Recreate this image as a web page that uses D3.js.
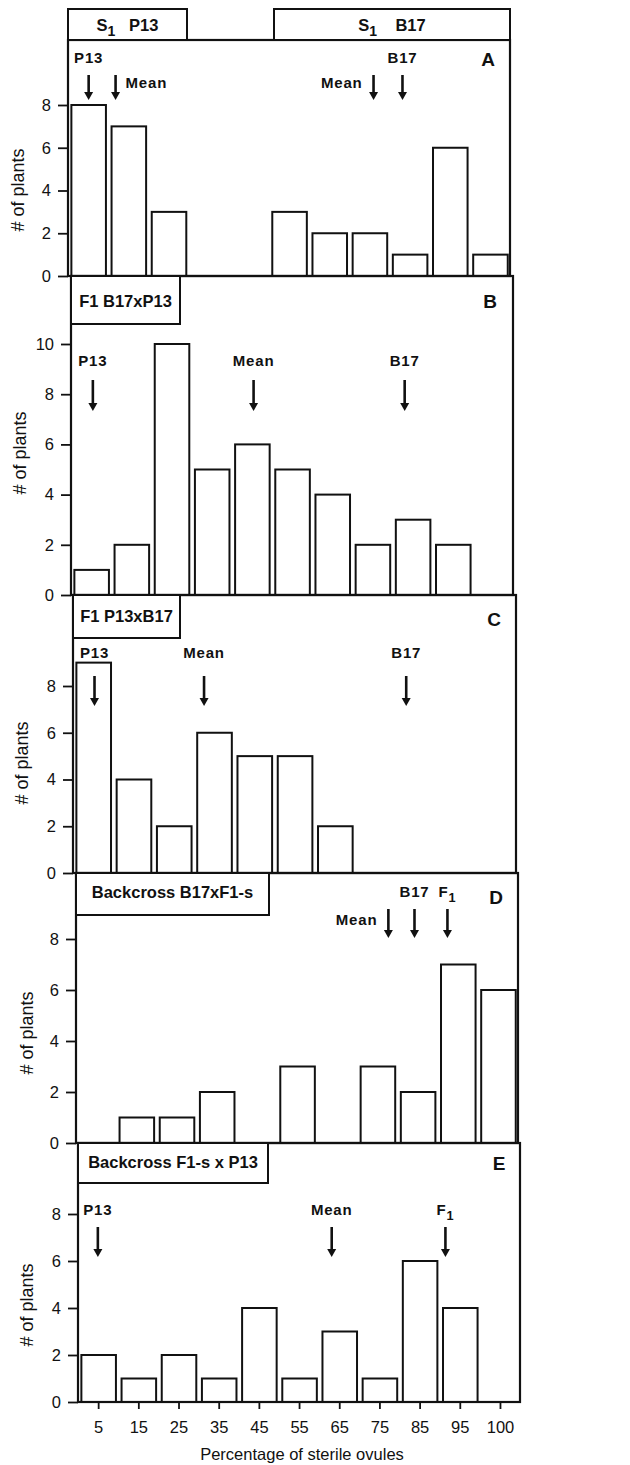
<!DOCTYPE html>
<html>
<head>
<meta charset="utf-8">
<script src="https://cdn.jsdelivr.net/npm/d3@7"></script>
<style>
    body { margin: 0; background: #fff; }
    svg { display: block; font-family: "Liberation Sans", Arial, Helvetica, sans-serif; }
</style>
</head>
<body>
<svg id="chart" width="630" height="1465"></svg>
<script>
// bins of percentage of sterile ovules
const bins = ['5', '15', '25', '35', '45', '55', '65', '75', '85', '95', '100']

// number of plants per bin
const countsA = [8, 7, 3, 0, 0, 3, 2, 2, 1, 6, 1]
const countsB = [1, 2, 10, 5, 6, 5, 4, 2, 3, 2, 0]
const countsC = [9, 4, 2, 6, 5, 5, 2, 0, 0, 0, 0]
const countsD = [0, 1, 1, 2, 0, 3, 0, 3, 2, 7, 6]
const countsE = [2, 1, 2, 1, 4, 1, 3, 1, 6, 4, 0]

// y tick labels
const ticksA = [0, 2, 4, 6, 8]
const ticksB = [0, 2, 4, 6, 8, 10]
const ticksC = [0, 2, 4, 6, 8]
const ticksD = [0, 2, 4, 6, 8]
const ticksE = [0, 2, 4, 6, 8]

// titles
const titlesA = ['S_1   P13', 'S_1    B17']
const titleB = 'F1 B17xP13'
const titleC = 'F1 P13xB17'
const titleD = 'Backcross B17xF1-s'
const titleE = 'Backcross F1-s x P13'

// arrows: name and percentage value
const markersA = [['P13', 5], ['Mean', 11.7], ['Mean', 75.9], ['B17', 83.1]]
const markersB = [['P13', 5.3], ['Mean', 45.3], ['B17', 82.9]]
const markersC = [['P13', 5.2], ['Mean', 32.4], ['B17', 82.6]]
const markersD = [['Mean', 77.6], ['B17', 84.1], ['F_1', 92.3]]
const markersE = [['P13', 4.8], ['Mean', 63], ['F_1', 91.3]]

const xTitle = 'Percentage of sterile ovules'
const yTitle = '# of plants'

// layout of each panel (pixels)
const panels = [
    { key: 'A', counts: countsA, ticks: ticksA, markers: markersA, left: 68, right: 510, top: 40, base: 276, yTick: 105, tickTop: 8,
      boxes: [[68, 9, 187, 40], [274, 9, 510, 40]], titles: titlesA, titleY: 31,
      arrow: [75, 100], place: ['above', 'right', 'left', 'above'], aboveY: 63, sideY: 88, letter: [488, 66], ylab: [18, 190] },
    { key: 'B', counts: countsB, ticks: ticksB, markers: markersB, left: 71, right: 513, top: 276, base: 595, yTick: 344, tickTop: 10,
      boxes: [[71, 276, 180, 324]], titles: [titleB], titleY: 307,
      arrow: [380, 411], place: ['above', 'above', 'above'], aboveY: 366, sideY: 0, letter: [490, 308], ylab: [20, 453] },
    { key: 'C', counts: countsC, ticks: ticksC, markers: markersC, left: 73, right: 516, top: 595, base: 873, yTick: 686, tickTop: 8,
      boxes: [[73, 595, 180, 638]], titles: [titleC], titleY: 622,
      arrow: [676, 706], place: ['above', 'above', 'above'], aboveY: 658, sideY: 0, letter: [494, 626], ylab: [22, 763] },
    { key: 'D', counts: countsD, ticks: ticksD, markers: markersD, left: 76, right: 518, top: 873, base: 1143, yTick: 939, tickTop: 8,
      boxes: [[76, 873, 269, 915]], titles: [titleD], titleY: 898,
      arrow: [909, 938], place: ['left', 'above', 'above'], aboveY: 897, sideY: 925, letter: [496, 904], ylab: [27, 1033] },
    { key: 'E', counts: countsE, ticks: ticksE, markers: markersE, left: 78, right: 520, top: 1143, base: 1402, yTick: 1214, tickTop: 8,
      boxes: [[78, 1143, 268, 1183]], titles: [titleE], titleY: 1168,
      arrow: [1227, 1257], place: ['above', 'above', 'above'], aboveY: 1215, sideY: 0, letter: [499, 1170], ylab: [27, 1305] }
]

const svg = d3.select('#chart')

// text with "_1" written as subscript
const richText = (sel, str, size) => {
    const parts = str.split('_')
    sel.append('tspan').text(parts[0])
    for (let i = 1; i < parts.length; i++) {
        sel.append('tspan').attr('dy', size * 0.3).attr('font-size', size * 0.85).text(parts[i][0])
        sel.append('tspan').attr('dy', -size * 0.3).text(parts[i].slice(1))
    }
}

panels.forEach((p) => {
    const g = svg.append('g')

    const x = d3.scaleBand().domain(bins).range([p.left, p.right]).paddingInner(0.14).paddingOuter(0.07).align(0.6)
    const y = d3.scaleLinear().domain([0, p.tickTop]).range([p.base, p.yTick])
    // arrows are placed by percentage between bin centres
    const xp = d3.scaleLinear().domain([5, 95]).range([x('5') + x.bandwidth() / 2, x('95') + x.bandwidth() / 2])

    // bars
    g.selectAll('rect.bar')
        .data(p.counts.map((c, i) => ({ bin: bins[i], c })).filter((d) => d.c > 0))
        .enter()
        .append('rect')
        .attr('class', 'bar')
        .attr('x', (d) => x(d.bin))
        .attr('width', x.bandwidth())
        .attr('y', (d) => y(d.c))
        .attr('height', (d) => y(0) - y(d.c))
        .attr('fill', '#fff')
        .attr('stroke', '#111')
        .attr('stroke-width', 2)

    // frame
    g.append('rect')
        .attr('x', p.left).attr('y', p.top)
        .attr('width', p.right - p.left).attr('height', p.base - p.top)
        .attr('fill', 'none').attr('stroke', '#111').attr('stroke-width', 2.2)

    // title boxes
    p.boxes.forEach((b, i) => {
        g.append('rect')
            .attr('x', b[0]).attr('y', b[1])
            .attr('width', b[2] - b[0]).attr('height', b[3] - b[1])
            .attr('fill', '#fff').attr('stroke', '#111').attr('stroke-width', 2)
        const t = g.append('text')
            .attr('x', (b[0] + b[2]) / 2).attr('y', p.titleY)
            .attr('text-anchor', 'middle')
            .attr('font-size', 16.5).attr('font-weight', 'bold')
            .attr('xml:space', 'preserve')
            .style('white-space', 'pre')
            .attr('fill', '#111')
        richText(t, p.titles[i], 16.5)
    })

    // y axis
    const yAxis = g.append('g')
        .attr('transform', `translate(${p.left},0)`)
        .call(d3.axisLeft(y).tickValues(p.ticks).tickSize(10).tickPadding(7).tickSizeOuter(0))
    yAxis.select('.domain').remove()
    yAxis.selectAll('line').attr('stroke', '#111').attr('stroke-width', 1.8)
    yAxis.selectAll('text').attr('font-size', 16.5).attr('fill', '#111').attr('font-family', '"Liberation Sans", Arial, sans-serif')

    // y title
    g.append('text')
        .attr('transform', `translate(${p.ylab[0]},${p.ylab[1]}) rotate(-90)`)
        .attr('text-anchor', 'middle')
        .attr('dy', '0.35em')
        .attr('font-size', 18)
        .attr('fill', '#111')
        .text(yTitle)

    // panel letter
    g.append('text')
        .attr('x', p.letter[0]).attr('y', p.letter[1])
        .attr('text-anchor', 'middle')
        .attr('font-size', 19).attr('font-weight', 'bold')
        .attr('fill', '#111')
        .text(p.key)

    // arrows and labels
    p.markers.forEach((m, i) => {
        const cx = xp(m[1])
        const [y0, y1] = p.arrow
        g.append('line')
            .attr('x1', cx).attr('x2', cx)
            .attr('y1', y0).attr('y2', y1 - 6)
            .attr('stroke', '#111').attr('stroke-width', 2.6)
        g.append('path')
            .attr('d', `M${cx - 4.5},${y1 - 8} L${cx + 4.5},${y1 - 8} L${cx},${y1} Z`)
            .attr('fill', '#111')

        const place = p.place[i]
        const t = g.append('text')
            .attr('font-size', 15).attr('font-weight', 'bold')
            .attr('letter-spacing', 0.8)
            .attr('fill', '#111')
        if (place == 'above') {
            t.attr('x', cx).attr('y', p.aboveY).attr('text-anchor', 'middle')
        } else if (place == 'right') {
            t.attr('x', cx + 10).attr('y', p.sideY).attr('text-anchor', 'start')
        } else {
            t.attr('x', cx - 11).attr('y', p.sideY).attr('text-anchor', 'end')
        }
        richText(t, m[0], 15)
    })

    // x axis only under last panel
    if (p.key == 'E') {
        const xAxis = g.append('g')
            .attr('transform', `translate(0,${p.base})`)
            .call(d3.axisBottom(x).tickSize(7).tickPadding(12).tickSizeOuter(0))
        xAxis.select('.domain').remove()
        xAxis.selectAll('line').attr('stroke', '#111').attr('stroke-width', 1.8)
        xAxis.selectAll('text').attr('font-size', 16.5).attr('fill', '#111').attr('font-family', '"Liberation Sans", Arial, sans-serif')

        g.append('text')
            .attr('x', 302).attr('y', 1460)
            .attr('text-anchor', 'middle')
            .attr('font-size', 16.5)
            .attr('fill', '#111')
            .text(xTitle)
    }
})
</script>
</body>
</html>
